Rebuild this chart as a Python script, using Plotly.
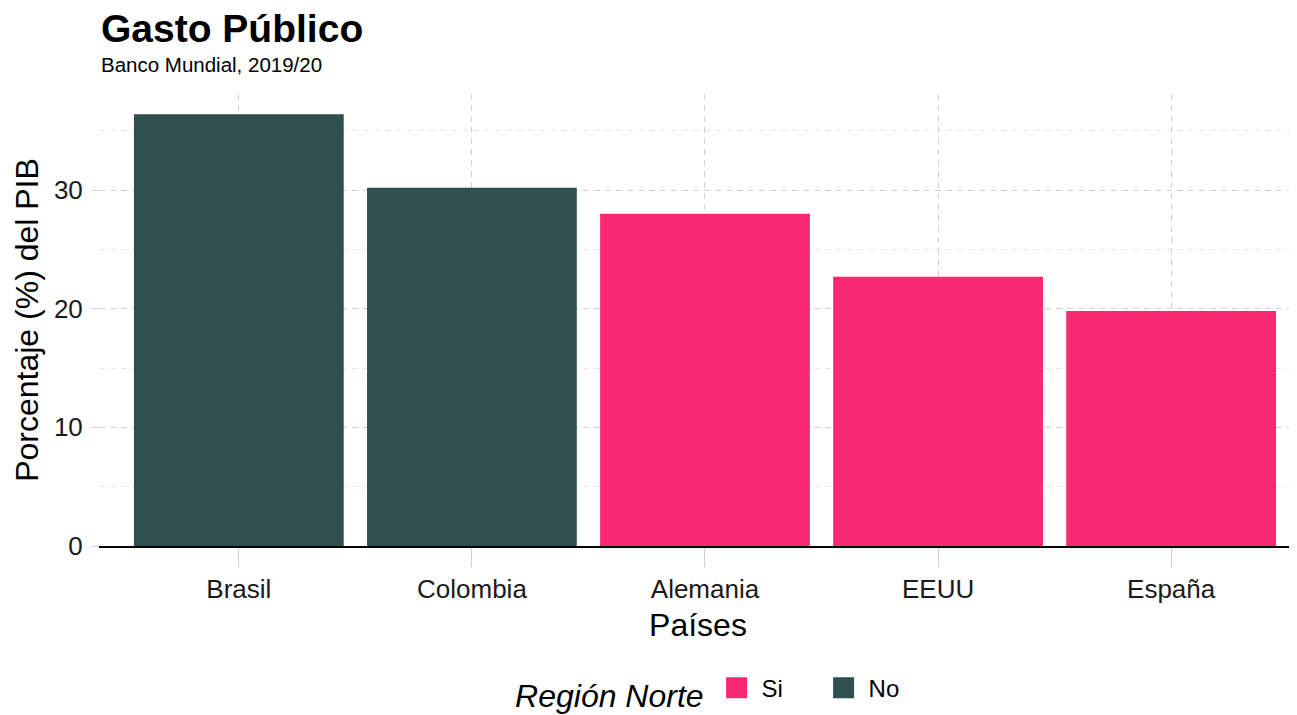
import plotly.graph_objects as go

paises = ["Brasil", "Colombia", "Alemania", "EEUU", "España"]
gasto = [36.4, 30.2, 28.0, 22.7, 19.8]
region_norte = ["No", "No", "Si", "Si", "Si"]
colores = {"Si": "#F92872", "No": "#2F4F4F"}
y_ticks = [0, 10, 20, 30]
y_minor = [5, 15, 25, 35]

FONT = "Liberation Sans, Arial, sans-serif"

fig = go.Figure()
for grupo in ["Si", "No"]:
    xs = [p for p, r in zip(paises, region_norte) if r == grupo]
    ys = [v for v, r in zip(gasto, region_norte) if r == grupo]
    fig.add_trace(go.Bar(x=xs, y=ys, name=grupo, width=0.9, showlegend=False,
                         legendgroup=grupo,
                         marker=dict(color=colores[grupo], line=dict(width=0))))
# legend keys (larger squares)
for grupo in ["Si", "No"]:
    fig.add_trace(go.Scatter(x=[None], y=[None], mode="markers", name=grupo,
                             legendgroup=grupo,
                             marker=dict(symbol="square", size=16, color=colores[grupo],
                                         line=dict(width=5, color=colores[grupo]))))

fig.update_layout(
    width=1289, height=707,
    barmode="relative",
    plot_bgcolor="white", paper_bgcolor="white",
    margin=dict(l=91, r=0, t=86, b=169, autoexpand=False),
    font=dict(family=FONT, color="black"),
    showlegend=True,
    legend=dict(orientation="h", x=0.518, xanchor="center", y=-0.322, yanchor="middle",
                title=dict(text="<i>Región Norte</i>", font=dict(size=32, family=FONT)),
                font=dict(size=24, family=FONT), traceorder="normal",
                itemsizing="trace", itemwidth=40, entrywidth=52, valign="middle"),
    annotations=[
        dict(text="<b>Gasto Público</b>", xref="paper", yref="paper", x=0, y=1,
             xanchor="left", yanchor="middle", yshift=66, showarrow=False,
             font=dict(size=39, family=FONT, color="black")),
        dict(text="Banco Mundial, 2019/20", xref="paper", yref="paper", x=0, y=1,
             xanchor="left", yanchor="middle", yshift=30, showarrow=False,
             font=dict(size=20.5, family=FONT, color="black")),
    ],
)
fig.update_xaxes(
    categoryorder="array", categoryarray=paises,
    range=[-0.6, 4.54],
    title=dict(text="Países", font=dict(size=32, family=FONT), standoff=10),
    tickfont=dict(size=26, family=FONT, color="#1a1a1a"),
    ticklabelstandoff=0,
    showgrid=True, gridcolor="#d0d0d0", griddash="6px,5px", gridwidth=1,
    showline=True, linecolor="black", linewidth=2,
    ticks="outside", ticklen=19, tickcolor="#cfcfcf", tickwidth=1,
)
fig.update_yaxes(
    range=[0, 38.1],
    tickvals=y_ticks,
    title=dict(text="Porcentaje (%) del PIB", font=dict(size=32, family=FONT), standoff=5),
    tickfont=dict(size=26, family=FONT, color="#1a1a1a"),
    showgrid=True, gridcolor="#d0d0d0", griddash="6px,5px", gridwidth=1,
    minor=dict(tickvals=y_minor, showgrid=True, gridcolor="#e6e6e6",
               griddash="6px,5px", gridwidth=1),
    zeroline=False, showline=False,
    ticks="outside", ticklen=6, tickcolor="#d0d0d0",
    ticklabelstandoff=4,
)

fig.write_html("out.html")
